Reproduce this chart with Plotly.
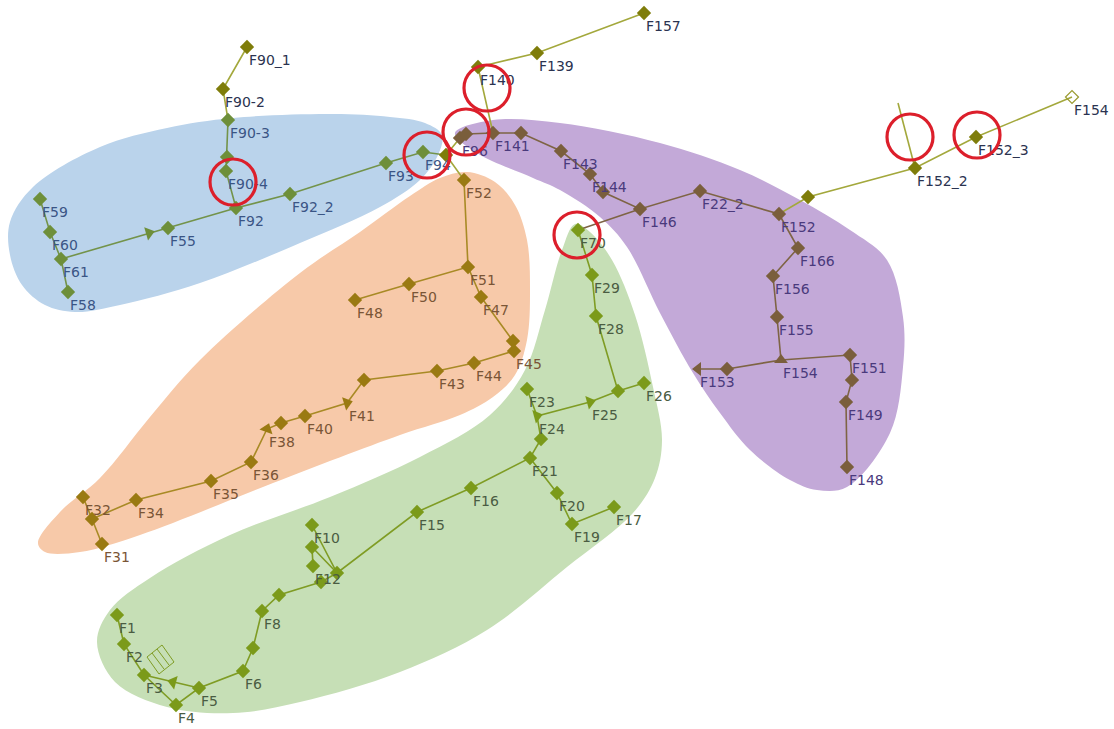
import plotly.graph_objects as go

# ---------------- data ----------------
# outside (olive) nodes
olive_ids = ["F157", "F139", "F140", "F90_1", "F90-2", "F152_2", "F152_3", "o808", "j446"]
olive_x = [644, 537, 478, 247, 223, 915, 976, 808, 446]
olive_y = [13, 53, 67, 47, 89, 168, 137, 197, 155]
olive_labels = ["F157", "F139", "F140", "F90_1", "F90-2", "F152_2", "F152_3", "", ""]

open_ids = ["F154o"]
open_x = [1072]
open_y = [97]
open_labels = ["F154"]

stub_ids = ["s898"]
stub_x = [898]
stub_y = [103]

# blue region nodes
blue_ids = ["F90-3", "b157", "F90-4", "F92", "F92_2", "F93", "F94", "F55", "b149", "F59", "F60", "F61", "F58"]
blue_x = [228, 227, 226, 236, 290, 386, 423, 168, 149, 40, 50, 61, 68]
blue_y = [120, 157, 171, 208, 194, 163, 152, 228, 233, 199, 232, 259, 292]
blue_labels = ["F90-3", "", "F90-4", "F92", "F92_2", "F93", "F94", "F55", "", "F59", "F60", "F61", "F58"]

# orange region nodes
orange_ids = ["F52", "F51", "F50", "F48", "F47", "o513", "F45", "F44", "F43", "o364", "F41", "F40",
              "o281", "F38", "F36", "F35", "F34", "F32", "o92", "F31"]
orange_x = [464, 468, 409, 355, 481, 513, 514, 474, 437, 364, 347, 305, 281, 267, 251, 211, 136, 83, 92, 102]
orange_y = [180, 267, 284, 300, 297, 341, 351, 363, 371, 380, 403, 416, 423, 429, 462, 481, 500, 497, 519, 544]
orange_labels = ["F52", "F51", "F50", "F48", "F47", "", "F45", "F44", "F43", "", "F41", "F40",
                 "", "F38", "F36", "F35", "F34", "F32", "", "F31"]

# green region nodes
green_ids = ["F70", "F29", "F28", "g618", "F26", "F25", "F24", "F23", "g541", "F21", "F16", "F15",
             "F20", "F19", "F17", "F10", "g547", "F12", "g337", "g321", "g279", "F8", "g253", "F6",
             "F5", "F4", "F3", "F2", "F1", "a3"]
green_x = [578, 592, 596, 618, 644, 590, 537, 527, 541, 530, 471, 417, 557, 572, 614, 312, 312, 313,
           337, 321, 279, 262, 253, 243, 199, 176, 144, 124, 117, 173]
green_y = [230, 275, 316, 391, 383, 402, 416, 389, 439, 458, 488, 512, 493, 524, 507, 525, 547, 566,
           573, 582, 595, 611, 648, 671, 688, 705, 675, 644, 615, 682]
green_labels = ["F70", "F29", "F28", "", "F26", "F25", "F24", "F23", "", "F21", "F16", "F15",
                "F20", "F19", "F17", "F10", "", "F12", "", "", "", "F8", "", "F6",
                "F5", "F4", "F3", "F2", "F1", ""]

# purple region nodes
purple_ids = ["F96", "p465", "F141", "p521", "F143", "F144", "p603", "F146", "F22_2", "F152", "F166",
              "F156", "F155", "F154", "p727", "F153", "F151", "p852", "F149", "F148"]
purple_x = [460, 466, 493, 521, 561, 590, 603, 640, 700, 779, 798, 773, 777, 781, 727, 698, 850, 852, 846, 847]
purple_y = [138, 134, 133, 133, 151, 174, 192, 209, 191, 214, 248, 276, 317, 360, 369, 369, 355, 380, 402, 467]
purple_labels = ["F96", "", "F141", "", "F143", "F144", "", "F146", "F22_2", "F152", "F166",
                 "F156", "F155", "F154", "", "F153", "F151", "", "F149", "F148"]

# connections (chains of node ids)
olive_paths = [["F90_1", "F90-2", "F90-3"], ["F157", "F139", "F140", "F141"],
               ["F152", "o808", "F152_2", "F152_3", "F154o"], ["s898", "F152_2"],
               ["F96", "j446", "F52"]]
blue_paths = [["F90-3", "b157", "F90-4", "F92"],
              ["F61", "b149", "F55", "F92", "F92_2", "F93", "F94", "j446"],
              ["F59", "F60", "F61", "F58"]]
orange_paths = [["F52", "F51", "F50", "F48"],
                ["F51", "F47", "o513", "F45", "F44", "F43", "o364", "F41", "F40", "o281", "F38",
                 "F36", "F35", "F34", "o92", "F32"],
                ["o92", "F31"]]
green_paths = [["F70", "F29", "F28", "g618", "F26"], ["g618", "F25", "F24", "F23"],
               ["F24", "g541", "F21", "F16", "F15", "g337", "F10"], ["F21", "F20", "F19", "F17"],
               ["g337", "g547", "F12"],
               ["g337", "g321", "g279", "F8", "g253", "F6", "F5", "F4", "F3", "F2", "F1"],
               ["F3", "a3", "F5"]]
purple_paths = [["F96", "p465", "F141", "p521", "F143", "F144", "p603", "F146", "F22_2", "F152",
                 "F166", "F156", "F155", "F154", "p727", "F153"],
                ["F146", "F70"], ["F154", "F151", "p852", "F149", "F148"]]

# flow arrows (node id, direction in degrees, clockwise)
arrow_ids = ["b149", "F41", "F38", "F25", "F24", "F153", "F154", "a3"]
arrow_angles = [-16, -17, -70, -15, -15, 180, -90, 195]

# highlighted spots
circle_x = [233, 487, 466, 427, 577, 910, 977]
circle_y = [182, 88, 132, 155, 235, 137, 135]

# zone outlines
blue_zone_x = [10, 33, 100, 167, 233, 333, 390, 425, 442, 438, 420, 380, 300, 200, 120, 75, 45, 22, 10]
blue_zone_y = [222, 187, 147, 128, 118, 114, 117, 123, 135, 155, 180, 207, 243, 283, 305, 312, 305, 285, 255]
orange_zone_x = [38, 60, 100, 150, 200, 300, 360, 410, 440, 467, 495, 515, 527, 530, 527, 515, 493, 460, 400, 273, 140, 80, 45]
orange_zone_y = [543, 512, 478, 417, 360, 273, 232, 196, 178, 172, 182, 205, 240, 290, 340, 375, 397, 415, 435, 483, 535, 552, 552]
green_zone_x = [575, 590, 612, 635, 653, 662, 655, 633, 567, 487, 400, 300, 233, 167, 115, 97, 110, 150, 230, 330, 420, 490, 525, 545, 562]
green_zone_y = [224, 232, 260, 315, 387, 440, 478, 513, 567, 630, 672, 702, 713, 707, 682, 642, 610, 578, 535, 497, 457, 415, 370, 310, 250]
purple_zone_x = [455, 493, 560, 660, 740, 800, 850, 887, 903, 903, 890, 847, 817, 790, 750, 720, 693, 660, 627, 600, 560, 533, 477]
purple_zone_y = [133, 120, 123, 143, 170, 200, 230, 260, 317, 367, 433, 487, 490, 480, 450, 413, 373, 313, 247, 217, 190, 178, 153]

# small valve box near F2
box_x = [147, 162, 174, 159, 147, None, 152, 164, None, 157, 169]
box_y = [657, 645, 662, 674, 657, None, 653, 669, None, 649, 665]

# ---------------- build ----------------
pos = {}
for ids, xs, ys in [(olive_ids, olive_x, olive_y), (open_ids, open_x, open_y), (stub_ids, stub_x, stub_y),
                    (blue_ids, blue_x, blue_y), (orange_ids, orange_x, orange_y),
                    (green_ids, green_x, green_y), (purple_ids, purple_x, purple_y)]:
    for i, x, y in zip(ids, xs, ys):
        pos[i] = (x, y)

fig = go.Figure()

zones = [(blue_zone_x, blue_zone_y, "#bad3eb"), (orange_zone_x, orange_zone_y, "#f7c9a9"),
         (green_zone_x, green_zone_y, "#c6dfb6"), (purple_zone_x, purple_zone_y, "#c3a9d8")]
for zx, zy, col in zones:
    fig.add_trace(go.Scatter(x=zx + zx[:1], y=zy + zy[:1], mode="lines", fill="toself", fillcolor=col,
                             line=dict(color=col, width=0, shape="spline", smoothing=1.0),
                             hoverinfo="skip", showlegend=False))


def path_xy(paths):
    xs, ys = [], []
    for p in paths:
        for n in p:
            xs.append(pos[n][0])
            ys.append(pos[n][1])
        xs.append(None)
        ys.append(None)
    return xs, ys


line_styles = [(olive_paths, "#a3a83c"), (blue_paths, "#73934a"), (orange_paths, "#a88a25"),
               (green_paths, "#7f9c24"), (purple_paths, "#7e6444")]
for paths, col in line_styles:
    lx, ly = path_xy(paths)
    fig.add_trace(go.Scatter(x=lx, y=ly, mode="lines", line=dict(color=col, width=1.6),
                             hoverinfo="skip", showlegend=False))

fig.add_trace(go.Scatter(x=box_x, y=box_y, mode="lines", line=dict(color="#7f9c24", width=1),
                         hoverinfo="skip", showlegend=False))

groups = [(olive_ids, olive_x, olive_y, olive_labels, "#7f7d0a", "#2b3350"),
          (blue_ids, blue_x, blue_y, blue_labels, "#6e8f3a", "#3a5585"),
          (orange_ids, orange_x, orange_y, orange_labels, "#9a7a12", "#7a5536"),
          (green_ids, green_x, green_y, green_labels, "#7b9a1a", "#4a5c42"),
          (purple_ids, purple_x, purple_y, purple_labels, "#7a5e3c", "#4a3a7c")]

for ids, xs, ys, labels, ncol, tcol in groups:
    dx = [x for i, x in zip(ids, xs) if i not in arrow_ids]
    dy = [y for i, y in zip(ids, ys) if i not in arrow_ids]
    fig.add_trace(go.Scatter(x=dx, y=dy, mode="markers",
                             marker=dict(symbol="diamond", size=11, color=ncol, line=dict(width=0)),
                             hoverinfo="skip", showlegend=False))
    ax = [x for i, x in zip(ids, xs) if i in arrow_ids]
    ay = [y for i, y in zip(ids, ys) if i in arrow_ids]
    aa = [arrow_angles[arrow_ids.index(i)] for i in ids if i in arrow_ids]
    if ax:
        fig.add_trace(go.Scatter(x=ax, y=ay, mode="markers",
                                 marker=dict(symbol="triangle-right", size=12, color=ncol, angle=aa,
                                             line=dict(width=0)),
                                 hoverinfo="skip", showlegend=False))
    tx = [x + 2 for x, t in zip(xs, labels) if t]
    ty = [y + 14 for y, t in zip(ys, labels) if t]
    tt = [t for t in labels if t]
    fig.add_trace(go.Scatter(x=tx, y=ty, mode="text", text=tt, textposition="middle right",
                             textfont=dict(family="DejaVu Sans", size=14, color=tcol),
                             hoverinfo="skip", showlegend=False))

# open end node
fig.add_trace(go.Scatter(x=open_x, y=open_y, mode="markers",
                         marker=dict(symbol="diamond-open", size=10, color="#9a9a30", line=dict(width=1.2)),
                         hoverinfo="skip", showlegend=False))
fig.add_trace(go.Scatter(x=[x + 2 for x in open_x], y=[y + 14 for y in open_y], mode="text",
                         text=open_labels, textposition="middle right",
                         textfont=dict(family="DejaVu Sans", size=14, color="#2b3350"),
                         hoverinfo="skip", showlegend=False))

# red highlight circles
fig.add_trace(go.Scatter(x=circle_x, y=circle_y, mode="markers",
                         marker=dict(symbol="circle-open", size=46, color="#dc1f2b", line=dict(width=3.2)),
                         hoverinfo="skip", showlegend=False))

fig.update_layout(width=1114, height=729, margin=dict(l=0, r=0, t=0, b=0),
                  paper_bgcolor="white", plot_bgcolor="white", showlegend=False,
                  xaxis=dict(range=[0, 1114], visible=False, fixedrange=True),
                  yaxis=dict(range=[729, 0], visible=False, fixedrange=True))

fig.write_html("out.html")
